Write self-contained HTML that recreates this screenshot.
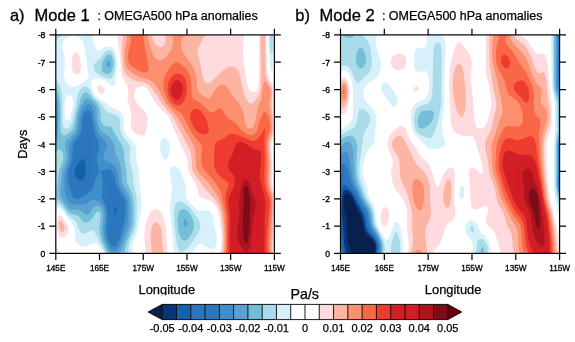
<!DOCTYPE html>
<html><head><meta charset="utf-8"><style>
html,body{margin:0;padding:0;background:#fff;width:575px;height:342px;overflow:hidden}
svg{display:block;font-family:"Liberation Sans", sans-serif;will-change:transform}
.hv{stroke:#000;stroke-width:0.3px}
.md{stroke:#000;stroke-width:0.25px}
.tl{font-size:8.2px;stroke:#000;stroke-width:0.3px}
.yl{font-size:8.6px;stroke:#000;stroke-width:0.35px}
</style></head><body>
<svg width="575" height="342" viewBox="0 0 575 342">
<defs><clipPath id="c0"><rect x="55.8" y="34.9" width="218.6" height="218.5"/></clipPath><clipPath id="c1"><rect x="340.5" y="34.9" width="219.1" height="218.5"/></clipPath></defs>
<text x="9.9" y="20.6" font-size="16.5" class="hv">a)</text>
<text x="34.6" y="20.6" font-size="16.5" class="hv">Mode 1</text>
<text x="97.4" y="20.3" font-size="12" textLength="160.4" lengthAdjust="spacingAndGlyphs" class="md">: OMEGA500 hPa anomalies</text>
<text x="295.3" y="20.6" font-size="16.5" class="hv">b)</text>
<text x="319.6" y="20.6" font-size="16.5" class="hv">Mode 2</text>
<text x="381.9" y="20.3" font-size="12" textLength="160.7" lengthAdjust="spacingAndGlyphs" class="md">: OMEGA500 hPa anomalies</text>
<g clip-path="url(#c0)">
<path fill="#ffdadf" d="M118.8 33.9L243.9 33.9L243.1 48.4L243.2 56.4L243.7 61.9L245.9 74.4L247 83.4L247.8 87.1L249.2 89.9L250.8 91.5L253.3 92.2L255.3 91.7L256.8 90.1L257.8 87.6L258.4 83.9L258.9 68.4L259 33.9L266.5 33.9L266.4 48.9L267.3 72.4L267.9 75.4L268.8 78L273 84.9L273.8 89.9L273.4 105.9L274.2 122.4L274.2 129.4L273.6 134.9L271.4 143.4L271.1 147.4L272.4 162.4L272 182.4L274.3 197.1L274.8 198.7L275.3 198.7L275.3 212.4L274.8 212.4L274.6 216.9L274.8 226L275.3 226L275.3 239.6L274.8 239.6L274.7 243.9L274.8 253.9L219.7 253.9L220.8 249.8L221.4 245.4L221.5 233.9L219.8 218.1L218.7 212.9L217.2 208.9L214.8 204.8L211.8 201.8L208.8 200.1L201.8 197.8L200.3 196.7L199.3 195.5L198.3 193L196.2 184.9L190.4 174.9L188.9 171.4L188 167.4L187.3 159.4L186.4 155.9L181.8 148L178.3 138.4L174 129.4L169.8 119.3L168.3 116.7L166.3 114.1L159 106.9L155.7 102.9L153 98.9L149.3 91.9L147.8 89.7L145.8 87.8L143.3 86.6L141.8 86.5L139.8 86.7L138 87.4L136.6 88.4L135.4 89.9L134.7 91.4L134.3 95.4L135.1 99.4L136.7 102.9L138.8 105.5L144.7 111.4L146.1 113.4L147 115.4L147.6 118.4L147.6 121.9L146.9 126.9L145.9 131.9L145.1 133.9L144.3 135L143.3 135.6L141.8 135.6L138.8 134.8L135.3 133.1L133.1 131.4L131.7 129.4L131 127.4L130.7 124.9L131.3 115.9L131 111.4L130.2 107.9L128 102.4L127.6 100.4L128.4 92.9L128.2 89.4L126.7 84.9L122.3 76.4L121.1 71.4L119.7 51.9L117.6 38.9L117.7 37.4L118.4 34.9L118.4 33.9zM74.8 52.2L75.8 52L76.8 52.3L77.8 53.2L78.8 54.9L80.1 58.9L80.8 63.9L80.9 68.4L80.3 71.4L78.8 73.7L76.8 74.6L75.3 74.3L73.7 72.9L72.5 70.4L72 67.4L71.8 62.4L72.2 57.4L73 54.4L74.4 52.4zM99.3 85.3L100.8 85.3L102 85.9L103.2 86.9L104.1 88.4L104.5 89.9L104.5 91.4L103.8 92.7L102.8 93.4L101.3 93.6L99.8 93.2L98.8 92.4L97.7 90.9L97.2 89.4L97.3 87.4L97.8 86.3L99 85.4zM154.3 209.4L155.8 209.1L157.3 209.3L159.8 210.9L162.3 214.8L164.7 220.9L165.7 224.9L166.2 228.9L166.8 244.9L167.9 253.9L145.8 253.9L144.3 237.9L144.5 231.9L145.3 225.8L147 219.4L149.3 214.1L151.7 210.9L154.2 209.4zM58.8 215.1L59.3 214.9L60.3 215.1L62.3 217.2L66.6 223.9L68.1 227.4L68.2 230.9L67.4 233.9L65.8 236.2L63.3 237.6L61.3 237.6L59.8 236.7L58.5 234.9L57.7 232.4L57.1 227.9L57.1 222.4L57.6 217.9L58.6 215.4zM95.3 253.3L97.3 253L98.4 253.4L98.4 253.9L95 253.9L95 253.4z"/>
<path fill="#fdb5a3" d="M123.8 33.9L151.3 33.9L151.3 34.9L152.8 38.7L155.3 43.4L157.8 46.1L160.3 47L161.8 46.8L163.1 45.9L164.3 44.4L165 42.9L165.6 38.9L165.1 33.9L205 33.9L205 34.9L204 36.9L198.3 47.4L197.6 49.4L197.4 51.4L197.7 54.4L200.5 64.9L202.7 76.9L204.3 81.1L205.3 82.3L206.8 83.2L208.3 83.2L209.8 82.7L213.3 80.1L220.8 72.1L225.3 68.4L227.8 67.1L230.3 66.4L232.3 66.3L234.3 66.8L235.8 67.8L237.3 69.5L239.8 74.4L240.8 78.4L243.1 90.9L245.1 96.9L246.8 99.8L248.3 101.8L249.8 103.2L251.3 103.7L252.3 103.3L253.3 102.5L257.3 97.8L258.8 95L259.9 91.4L260.6 84.9L261 73.4L260.7 33.9L265.4 33.9L265.1 49.9L265.7 72.9L266.2 75.9L267.1 78.9L271.7 87.4L272.4 91.9L271.8 105.9L273.1 121.9L273.2 128.4L272.6 133.4L270 142.4L269.6 146.9L270.9 162.9L270.3 182.4L270.9 186.4L273 194.9L273.6 201.4L273.2 225.4L272.4 244.4L272.6 253.9L222 253.9L222.8 248.4L223.2 242.4L223.2 234.9L222.8 226.9L221.2 213.9L219.9 208.9L218.4 204.9L215.3 199.8L206.5 190.4L196.2 176.9L193.7 172.9L192.6 170.4L192 167.9L191.4 155.9L189.9 149.9L174.1 119.4L171.6 115.4L162.7 104.4L151.8 88.2L149.4 85.4L147.3 83.9L144.8 82.8L136.3 81.2L133.3 80.1L127.8 76L126.2 74.4L124.8 72.3L123.6 69.4L122.9 65.9L122 55.9L122.1 44.9L123.4 33.9zM59.8 220.8L60.8 220.6L61.8 221.4L63.3 223.6L64.3 225.9L64.7 227.9L64.5 229.4L63.8 231L62.8 231.8L61.8 231.9L60.8 231.3L59.9 229.9L59.3 228.4L59 223.9L59.3 221.9L59.7 220.9zM155.3 222.3L156.8 222.3L158.3 223.2L159.8 225.1L160.9 227.9L161.8 232.9L162.5 246.4L164.2 253.9L151.7 253.9L150.8 237.9L151 231.9L151.5 228.9L152.4 225.9L153.8 223.6L155.2 222.4z"/>
<path fill="#fc8f6e" d="M127.3 33.9L147.3 33.9L147.8 37.1L149.8 45L151.7 50.9L153.3 54.9L154.8 57.4L156.3 59.1L157.8 60.1L159.8 60.5L162.8 59.6L165.8 57.4L168.6 53.9L170.9 49.9L172.4 45.9L173.2 41.9L173.1 38.9L172.2 33.9L187 33.9L187 34.9L184.3 35.9L182.8 37.3L181.9 38.9L181 42.4L181.3 46.9L182.6 50.9L184.2 54.4L186.3 57.6L191.8 64.7L194.5 69.9L196.1 75.9L197.3 87.4L198 89.9L199.1 91.9L201.3 94.4L204.3 96.7L206.8 98.1L208.8 98.4L209.8 97.9L210.8 96.8L214.9 89.9L218.3 86.2L220.3 85L222.3 84.6L224.3 84.9L225.8 85.7L227.7 87.9L231.8 94.8L238.3 102.6L241.3 107.1L242.6 109.9L243.6 112.9L244.9 121.9L245.5 124.4L246.9 126.9L248.9 128.4L250.8 128.6L252.3 127.8L253.7 125.9L254.7 123.4L255.7 118.9L257.6 108.4L261.6 97.9L263.1 84.9L263.8 81.6L264.3 81.3L265.3 82L268.8 86.6L270.1 89.4L270.6 91.9L270.5 95.4L269.4 102.4L269.2 105.4L271.5 119.9L272 125.9L271.6 130.9L268.6 140.9L268 146.4L269.2 162.9L268.5 177.9L268.7 182.9L269.4 187.4L272 196.4L272.7 202.4L271.9 222.4L270.6 242.9L270.8 253.9L223.9 253.9L224.5 246.9L224.8 238.4L224.6 228.9L224 219.9L223.3 213.9L222.3 209L220.8 203.8L218.9 198.9L216.3 194L209.8 184.5L207.1 181.4L200.3 174.6L197.8 171.2L196.7 168.9L196 165.9L195.3 151.4L194.6 147.9L193.5 144.9L179.5 120.4L176 115.4L168.8 107.1L166 103.4L158.8 90.2L155.6 84.9L153.3 82.2L150.7 80.4L147.8 79.3L140.8 77.6L136.8 75.7L129.3 70.6L127.8 69.1L126.6 67.4L125.7 65.4L125 62.4L124.5 55.4L125 48.9L126.8 38.9L127 33.9zM188.3 33.9L197.9 33.9L197.9 34.9L195.8 35.6L193.3 35.7L188.1 34.9L188.1 33.9z"/>
<path fill="#f96747" d="M130.8 33.9L143.2 33.9L144 41.9L148.5 66.9L148.5 68.9L148 70.4L147.3 71.4L145.8 72.3L144.3 72.6L142.7 72.4L138.3 70.4L131.5 65.9L129.8 64.1L128.8 62.3L128.1 59.4L127.9 55.4L128.6 50.9L131 40.9L131.2 37.9L130.8 33.9zM175.3 62.4L176.8 62.2L178.3 62.6L181.8 64.9L186.3 69.2L189.2 73.4L190.3 76.4L191.1 80.4L191.7 95.4L192.3 97.6L193.3 99L200.8 103.5L207.8 110.2L210.3 111.9L211.8 112.2L213.3 112L214.8 111.3L218.8 108.5L220.3 108.2L221.3 108.6L222.8 110.2L225.8 115.4L227.3 117.4L229.3 119.1L234.8 122.3L236.3 123.8L241 129.9L243.3 131.9L245.8 133.5L248.3 134.7L250.8 135.3L252.8 135L254.3 134.2L256.3 131.9L257.7 128.9L261.3 116.4L262.8 113.1L263.8 112.2L265.3 112.1L266.8 113.7L267.8 115.5L269.7 121.4L270.2 126.9L269.7 130.9L267.1 139.4L266.5 143.9L266.5 148.9L267.3 162.4L266.7 180.9L267.5 187.4L270.9 197.9L271.4 203.9L268.9 239.9L268.9 253.9L225.7 253.9L226.3 235.9L225.8 217.9L224.5 208.9L220.3 190.7L219 187.9L216.7 184.4L211.3 177.5L204.9 170.4L202.4 166.4L201.5 163.4L201.2 159.9L202 148.4L201.7 146.4L200.8 144.4L199.5 142.4L194.3 136.5L191.8 132.9L182.3 114.8L180.5 112.9L173.8 108L169.2 102.9L166.7 98.4L164.6 92.4L163.7 88.4L163.4 84.4L163.6 80.9L164.5 77.4L166.7 72.4L169.5 67.9L172.8 64L175.2 62.4z"/>
<path fill="#ee3b2e" d="M177.3 73.4L178.8 73.5L180.8 74.1L182.8 75.5L184.3 77.2L185.3 78.9L186.2 81.4L187 86.9L186.5 93.4L185.6 96.9L184.5 99.9L183.3 102L181.8 103.8L180.3 104.7L178.3 105.1L176.3 104.8L174.3 103.7L172.3 101.9L170.8 99.9L168.5 94.9L167.5 89.4L168 83.9L168.8 81.3L170 78.9L171.5 76.9L173.3 75.1L175.3 73.9L177.1 73.4zM195.3 108.8L197.8 108.9L200.8 110.8L203.7 114.4L206.3 119.4L208.2 124.9L208.9 129.4L208.3 132.4L207.5 133.4L206.3 134.1L204.3 134.5L202.3 134.3L200.3 133.6L198.3 132.5L194.8 128.9L191.9 123.9L190.1 118.4L190.2 114.4L190.8 112.4L191.8 110.9L193.3 109.6L195 108.9zM264.8 128.6L265.3 128.6L265.5 129.9L264.7 135.9L264.4 140.9L264.9 159.4L264.3 173.9L264.5 180.9L265.4 187.9L268.9 198.4L269.6 203.9L267.1 235.4L266.8 244.9L266.9 253.9L227.6 253.9L227.8 219.4L227.4 213.4L225.7 202.4L225.4 197.9L225.8 193.4L228.1 186.4L228.3 184.2L227.8 182.5L226.8 181.2L221.3 177.7L218.9 175.4L216.8 172.4L215.2 168.9L214.4 165.9L214.1 162.4L214.4 148.9L215 144.4L216 142.4L217.3 141.2L223.8 138.4L229 134.4L231.3 133.5L234.3 133.9L239.3 135.4L250.8 140.5L252.8 140.9L254.8 140.7L256.8 139.7L258.3 138.2L264.5 128.9z"/>
<path fill="#d21f26" d="M175.8 80.3L178.3 80.2L179.8 80.9L180.8 81.8L182.4 84.4L183.2 87.9L182.9 91.9L181.5 95.9L179.7 98.4L178.3 99.3L177.3 99.6L175.3 99.2L173.3 97.4L171.6 94.4L170.8 90.9L170.9 87.4L171.9 84.4L173.5 81.9L175.7 80.4zM239.3 141.9L241.3 141.8L243.3 142.4L246 143.9L253.3 148.8L255.8 149.6L259.3 150.3L260.3 151.4L260.8 152.9L261.2 159.4L259.9 172.9L259.9 177.9L260.6 181.9L265 198.9L265.6 203.4L264.7 217.9L264.5 253.9L229.8 253.9L229.6 242.9L230.1 217.4L229.8 212.4L228.7 203.4L228.6 199.9L229.6 195.4L233.8 186.9L234.5 183.9L234.7 180.9L234.4 177.9L233.8 175.7L232.5 173.4L228.7 168.9L228 166.9L227.9 164.4L228.7 161.4L232.3 154.4L235.3 145.4L236.8 143.2L239.2 141.9z"/>
<path fill="#d21d25" d="M176.8 88.8L177.3 89.3L177.4 89.9L176.8 91L176.3 90.9L176 89.9L176.6 88.9zM244.3 174.7L245.8 174.5L247.3 174.6L248.8 175.4L249.7 176.4L250.9 178.9L252.8 185.9L253.6 187.9L254.8 189.5L258.3 192.2L259.3 193.9L260.3 196.8L260.8 200.4L261 204.9L260.3 228.9L259.8 236.4L259.3 239.9L258.3 242.8L257.8 243.3L255.8 243.7L254.8 244.9L254.3 246.1L252.6 253.9L234.5 253.9L232.8 249.8L232.1 243.4L232.3 233.4L233.6 215.4L233.5 211.9L232.6 204.4L232.7 200.9L233.5 197.9L236.8 190.4L239.9 179.4L241.7 176.4L243.9 174.9z"/>
<path fill="#b0131f" d="M245.3 179.7L246.3 179.6L247.3 180L248.3 181L249 182.4L252.2 193.9L255.3 200.4L255.9 203.9L255.7 206.9L253.7 215.9L250.1 245.4L248.8 250L247.8 251.5L246.8 252L245.3 251.7L243.9 250.4L239.6 243.9L237.9 239.9L237.3 235.4L237.5 229.4L239.3 214.4L239.1 201.9L239.6 195.9L240.8 188.4L241.8 184.4L243.3 181.4L244.9 179.9z"/>
<path fill="#7a0d18" d="M246.3 185.4L247.3 186.2L247.8 187.2L248.7 190.9L250 199.4L250.3 205.4L249.7 222.9L248.9 233.9L247.8 240.9L247.3 242.3L246.3 243.3L245.8 243.1L244.8 241.9L243.8 238.9L243 233.9L242.8 228.4L243.5 208.4L243.6 191.9L244.4 187.4L245.2 185.9L246 185.4z"/>
<path fill="#d6f1fc" d="M55.3 33.9L92.9 33.9L92.8 38.9L93.6 42.9L95.3 47.3L97.3 49.9L98.3 50.4L99.3 50.4L105.3 47L107.3 46.4L109.3 46.2L111.3 46.9L112.8 48L114.3 50L115.4 52.4L116.8 58.4L117.1 65.4L115.4 82.4L115 84.4L114.3 85.9L113.3 86.5L112.3 86.3L107.3 82.4L104.3 80.5L100.8 79L97.8 78.5L94.3 78.8L92.2 79.9L91.3 81.9L91.3 84.9L92 88.9L93.1 91.9L94.8 94.7L96.8 96.9L99.3 98.9L105.1 102.4L110.3 106.8L118.8 110.7L120.5 111.9L121.9 113.4L123 115.4L123.7 117.9L124.1 128.4L125.1 132.4L127.6 136.4L133.8 142.4L135.1 144.4L135.8 146.4L136.4 150.4L136 158.9L138.9 170.9L139.5 184.4L141.2 195.4L141.6 200.4L141.1 207.4L138.3 227.4L136.9 232.9L133.3 241.9L132.3 245.9L132.2 247.9L132.7 249.9L133.5 251.4L135.1 253.4L135.1 253.9L104 253.9L103.7 252.9L99.3 246.6L97.3 244.6L95.3 243.6L93.8 243.3L92.3 243.7L87.8 246.4L85.8 246.9L82.8 246.6L79.3 245.3L76.8 243.5L75.6 241.4L74.2 227.9L73.3 224.9L71.8 222.4L66.8 217.1L62.3 210.5L59.8 208L58.3 207.6L57.3 208L56.3 209.8L55.8 212.4L54.8 212.4L54.8 33.9zM71.9 35.9L67.8 37.2L64.7 39.4L62.8 42.4L62.3 45.9L62.6 48.4L64.3 55.9L64.9 60.4L64.9 64.9L64 74.4L64.5 78.4L66 81.9L68.3 85L70.3 86.5L72.8 87.1L75.3 86.6L77.8 85.5L85.8 80.4L87.9 78.4L88.5 76.9L88.6 75.4L88.2 71.4L86.5 61.4L85.1 48.9L83.7 43.4L81.7 39.9L78.8 37.3L75.8 36L72.3 35.9zM68 94.9L66.3 96.9L65.4 99.4L64.8 103L64.5 107.4L64.6 112.9L65.2 117.4L66.1 119.9L67.3 120.6L68.8 119.6L70.5 115.9L72.3 109L73 103.4L72.8 99.9L71.6 96.4L70.3 94.8L69.3 94.5L68.3 94.7zM268.8 33.9L274.1 33.9L273.9 50.4L273.3 63.4L272.8 69.7L272.3 71.6L271.8 72L271.3 71.6L270.8 70.4L270.3 67.9L269.2 55.9L268.5 44.4L268.6 33.9zM163.3 137.2L164.3 137.1L165.3 137.4L167.3 139.2L168.9 141.9L169.7 145.4L169.5 150.4L168.3 156.2L167.3 158.6L166.8 159.2L165.8 159.5L164.8 159.3L163.8 158.7L162.3 156.8L161.1 153.9L160.4 150.4L160.1 145.9L160.5 141.9L161.6 138.9L162.9 137.4zM171.8 166.3L174.3 166L176.8 166.9L178.8 168.5L180.4 170.9L185.7 184.9L186 187.9L185.7 193.9L186 196.4L187.1 198.9L188.9 201.4L195.3 208.2L198.3 210.6L200.8 211.2L205.8 210.4L207.8 210.5L210.3 211.8L211.9 213.9L213.3 218.4L214.3 225.9L216.3 234.4L216.8 238.9L216.6 242.4L216 245.4L214.8 247.5L213.3 248.7L211.3 249L209.3 248.6L206.9 247.4L202.8 244.6L200.3 244.2L198.3 244.9L196.3 246.8L192.1 252.9L191.8 253.9L174 253.9L170 208.9L170.3 201.9L171.8 191.4L172.1 187.4L171.8 183.9L170.3 174.9L170 170.9L170.5 167.9L171.6 166.4zM55.3 244.9L55.8 244.9L59 249.9L59.5 251.4L59.6 253.9L54.8 253.9L54.8 244.9z"/>
<path fill="#a9dce8" d="M55.3 33.9L62.7 33.9L62.7 34.9L59.2 37.4L55.8 40.8L54.8 40.8L54.8 33.9zM270.3 33.9L273.2 33.9L272.8 48.9L272.3 53.2L271.8 54.6L271.3 54.3L270.8 52.8L270 47.4L269.7 40.9L269.9 33.9zM108.3 50.3L109.8 50.4L110.8 50.7L113 52.9L114.6 56.9L115.4 61.9L115.1 67.9L113.8 73.6L111.8 77.7L110.8 78.5L109.8 78.8L107.8 78.6L104.8 77.5L100.4 75.4L97.1 73.4L95.6 71.9L94.8 70.4L93.8 66.4L93.9 64.4L94.5 63.4L98.8 60L104.3 52.6L106.3 51.1L108 50.4zM55.3 80.2L56.8 80.8L58.4 82.9L60.5 87.4L61.7 91.4L62.3 97.4L62.5 121.4L63.3 126L63.9 127.4L64.8 128.3L66.3 128.7L68.3 127.9L69.8 126.5L71.1 124.4L72.5 120.4L75.6 106.4L77.2 95.9L77.9 93.4L79.2 90.9L80.8 89L83.3 87.2L85.3 86.6L86.8 86.7L88.3 87.8L93.2 95.9L95.8 98.8L101.4 103.9L106.3 111.1L108.3 112.4L113.8 113.9L116.3 114.9L118.2 116.4L119.3 118.1L120.1 121.4L120.4 129.9L121.5 133.9L124.1 138.4L129.4 144.4L130.5 146.9L130.7 149.4L129.6 156.4L129.6 160.4L132.5 172.4L133.7 183.4L136.1 194.4L136.8 200.4L136.8 214.9L136.2 223.9L134.7 230.4L130.4 240.4L129 244.9L128.5 249.9L129.5 253.9L105.9 253.9L105.6 252.9L101.7 245.9L95.3 233.3L93.8 231.1L92.8 230.6L91.3 230.6L84.3 233.7L82.8 233.7L81.3 233.1L80.3 232.1L79.3 230.4L76.7 223.4L74.8 220.4L67.3 214.6L62.7 207.9L60.3 205.3L58.8 204.3L57.3 203.7L56.3 203.8L55.8 204.3L54.8 204.3L54.8 80.2zM177.8 201.3L179.8 201.1L182.3 202.2L186.8 205.1L190.5 208.4L194.1 212.9L198.7 219.9L199.9 222.4L200.4 224.9L200.2 227.9L199 231.4L196.5 235.9L192.3 242.3L189.3 246.2L186.8 248.8L183.8 251L181.3 251.9L179.8 251.4L179 250.4L177.2 245.4L175.6 236.4L174.3 223.4L173.9 214.9L174.3 208.9L175.6 203.9L176.5 202.4L177.6 201.4zM55.3 253.4L55.8 253.4L55.8 253.9L54.8 253.9L54.8 253.4z"/>
<path fill="#73bfd9" d="M107.8 54.8L109.8 54.6L110.8 55.1L111.8 56.3L113.1 59.4L113.5 62.9L113 67.4L111.8 71L110 73.4L107.8 74.2L105.3 73.6L103.3 72.2L102.1 70.4L101.6 67.9L102 64.4L103.5 59.9L105.3 56.9L107.5 54.9zM55.3 86.4L55.8 86.4L56.1 86.9L58 91.4L59.1 94.9L59.8 98.9L60.4 106.9L60.4 128.4L61 132.4L62.3 134.9L63.3 135.3L64.3 135.3L66.8 134.3L70.3 131.8L72.6 128.9L74.3 124.4L76.8 110.9L80.8 97.9L81.9 95.4L83.3 93.6L84.8 92.6L86.3 92.5L87.3 93L88.8 94.3L96.8 102.9L98.9 105.9L100.1 109.9L100.7 119.4L101.3 121.6L102.3 123.6L103.3 124.8L104.8 125.8L106.8 126.4L110.3 126.6L111.8 127.8L122.8 146.9L123.8 150.4L124.5 159.4L126.2 169.9L126.8 180.9L127.9 184.4L131.4 191.9L133.1 198.4L133.6 203.9L133.9 216.9L133.7 222.4L132.9 226.9L131.8 230.4L127.3 240.9L124 253.9L107.9 253.9L107.9 253.4L105 248.4L102.7 243.4L101.1 238.9L100.1 234.9L99.5 230.9L99.4 227.4L100.5 215.9L100.1 213.4L99.1 211.9L98.3 211.5L97.3 211.4L95.8 212.4L91.8 218.9L89.3 221.4L86.8 222.5L84.3 222.2L82.3 220.9L79.3 217.1L77.8 215.7L76.3 215.1L71.3 214L68.3 212.3L66.8 210.7L62.8 204.5L58.5 199.9L57.6 198.4L56.9 195.9L56.8 191.9L58.4 173.9L59.5 169.4L62.8 161L63.4 156.9L63.1 154.9L62.3 152.5L61.3 150.8L60.3 149.9L59.3 149.5L58.3 149.5L56.8 150.5L55.8 151.8L54.8 151.8L54.8 86.4zM181.3 209.4L183.3 209.1L185.3 209.6L187.3 210.8L188.8 212.2L190.5 214.4L192.1 217.4L193.1 220.4L193.8 223.4L193.9 225.9L193.6 228.4L191.8 233.4L190.3 235.9L188.3 238.5L186.3 240.1L184.8 240.6L183.3 240.5L182.3 239.9L180.4 237.4L178.9 232.9L177.9 226.9L177.5 220.4L177.9 214.9L179.1 211.4L179.8 210.4L181.2 209.4z"/>
<path fill="#5ea0d2" d="M108.3 60.6L109.3 60.5L109.8 60.8L110.4 61.9L110.6 63.4L110.3 65.2L109.8 66.4L109.3 67.1L108.3 67.6L107 66.9L106.5 64.9L106.8 62.7L107.9 60.9zM55.3 93L55.8 93L57.8 100.4L58.4 104.9L58.6 110.4L57.9 136.9L57.2 140.9L55.8 144.1L54.8 144.1L54.8 93zM86.3 98.8L88.3 99L90.8 100.6L93.8 103.4L95.8 106.4L96.8 110.4L97.2 117.9L97.8 122.6L98.8 126.4L100.3 129.6L102.8 132.5L108.3 136.2L110.3 137.9L112.3 140.4L113.6 142.9L114.6 146.4L115.9 154.4L119.3 162.1L120.7 166.9L121.4 171.4L121.8 179.4L122.5 182.9L123.7 185.9L128.3 193.4L130 198.4L130.7 204.4L131 216.9L130.9 221.4L130.5 224.9L129.4 228.4L125.6 237.9L122.1 248.4L120.8 251L118.8 253.4L118.8 253.9L110.5 253.9L110.5 253.4L107.3 248.9L105.2 244.4L103.1 237.9L102.1 231.4L102.1 226.4L103.1 216.9L103.1 213.4L102.1 209.9L100.3 207.4L99.3 206.6L97.8 206L96.3 206L94.8 206.5L92.8 208.2L88.9 213.9L87.8 214.6L86.3 214.6L84.8 213.9L81.3 211L79.3 209.9L77.3 209.6L71.8 209.9L69.3 209L67.3 206.9L61.6 198.4L60.2 194.9L60.1 190.9L62 173.4L63.1 169.4L65.9 161.4L66.7 157.9L66.7 153.9L65.2 145.9L65.4 143.4L66 141.9L67.2 139.9L73.3 133.4L75.3 130.3L76.4 126.9L77.7 116.4L79.3 110.3L81.3 105.4L83.3 101.6L84.8 99.7L86.1 98.9zM184.8 218.7L185.8 218.9L186.3 219.4L187.1 220.9L187.5 222.4L187.2 225.4L186.7 226.4L185.8 227.1L184.8 226.9L184.3 226.3L183.4 223.9L183.4 220.9L183.8 219.7L184.5 218.9z"/>
<path fill="#3f8fcb" d="M55.3 103.2L55.8 103.2L56.3 106.4L56.7 114.9L56.6 128.4L55.8 136.4L54.8 136.4L54.8 103.2zM87.3 104.3L88.8 104.2L90.3 104.9L91.8 106.3L92.9 107.9L94 111.4L95.4 123.4L97.3 130.8L99.4 134.9L104.9 140.9L106.6 143.9L106.9 145.4L106.8 147.4L103.8 155.4L103.5 157.4L103.9 158.9L105.8 160.9L110.8 163.1L112.8 164.3L114.3 165.6L115.8 167.7L117.4 171.9L118.8 181.4L119.8 185.2L121.3 188.3L125.9 195.4L127.6 200.4L128.2 205.9L128.2 215.9L127.9 220.9L127.2 224.9L119.8 246.3L117.3 249.9L114.8 251.3L112.3 251.1L110.8 250L109.8 248.9L107.3 244.4L105.5 239.4L104.6 234.9L104.2 229.9L105.2 216.9L105.1 212.4L104 207.9L101.8 204.2L99.8 202.2L97.8 200.9L95.8 200L93.8 199.7L90.8 200.5L86.8 203.3L84.8 204.1L74.3 204.7L71.8 204.5L69.8 203.3L68.2 201.4L65.9 196.9L64.9 193.4L64.6 189.9L64.7 175.4L65.6 170.4L68.7 161.4L69.5 157.9L69.7 154.4L69.2 147.4L69.5 144.4L71.1 140.9L75.9 134.9L77.7 131.9L78.8 127.9L79.7 117.9L80.8 113.3L82.2 109.9L83.8 107.3L85.3 105.5L87 104.4z"/>
<path fill="#2d78bd" d="M86.8 110.3L88.3 110L89.3 110.5L91 112.9L91.8 115.9L93.5 126.9L94.6 131.9L96 135.9L99.5 143.9L99.5 147.4L97.1 154.9L96.6 159.4L97.3 164.7L99.4 170.9L99.5 171.9L96.3 177.2L93.1 187.4L91.1 190.9L88.8 193L82.3 197.2L79.3 198.4L76.8 198.7L75.3 198.4L73.7 197.4L72.3 195.7L71.3 193.4L68.1 180.9L67.7 176.9L67.8 173.4L68.6 169.4L72.3 157.9L72.6 154.9L72.6 147.9L73 144.9L74.3 142.1L78.6 136.4L80.4 132.9L81.4 128.9L81.9 120.4L82.7 116.4L84.3 112.7L86.6 110.4zM105.8 169.3L108.3 169.2L110.3 169.8L111.8 170.9L113.3 172.9L114.6 176.4L117.3 186.9L119 190.4L123.8 197.7L124.8 200.4L125.4 203.9L125.5 208.9L125.1 215.9L124.6 220.4L123.6 224.9L119.8 237.9L118.3 242.1L116.3 245.4L115.1 246.4L113.8 246.9L111.8 246.3L110.3 244.8L108.7 241.9L107.3 237.4L106.6 233.4L106.3 228.9L107.2 215.9L107 210.4L105.8 205.4L102.3 198.4L101.5 195.4L101.6 192.9L102.9 185.9L103 182.9L102.3 177.9L100.7 172.4L101.1 171.4L101.8 170.9L105.4 169.4z"/>
<path fill="#2b76be" d="M86.8 118.8L87.8 118.7L88.3 119.2L89.3 121.6L93 143.4L92.9 146.9L91.5 157.9L91 174.9L90 181.4L88.3 185.5L86.8 187.2L84.8 188.5L82.3 189.3L80.3 189.5L78.8 189.1L77.3 188L75.3 185.7L73.2 182.4L72 179.9L71.2 177.4L70.9 172.4L71.7 168.4L75.5 157.9L76.7 146.4L77.8 143.9L82 138.4L83.8 134.9L84.8 130.4L85.5 121.9L86.1 119.9L86.8 118.9zM109.8 180.6L110.3 180.7L111.3 181.8L115.7 191.9L120.9 199.4L122 202.4L122.4 205.9L122.3 210.8L121.5 216.9L117.8 232.3L115.8 237.9L114.8 239.4L113.3 240.2L111.8 239.7L110.3 237.4L109.3 234L108.8 230L109.5 210.4L108.9 204.9L106.9 196.9L106.7 193.9L107.8 185.4L108.5 182.4L109.3 180.9z"/>
<path fill="#1460aa" d="M82.3 158.7L83.3 159L83.8 159.5L85 162.4L85.7 167.4L85.8 172.9L85.3 176L84.3 178.5L82.8 179.9L80.8 180.3L78.3 179.4L76.3 177.5L75 174.9L74.6 171.9L75.3 168.4L76.8 165L79.3 161.3L81.9 158.9zM115.3 206.9L115.8 206.8L116.3 207.4L116.6 210.4L115.8 214.4L115.3 215.3L114.8 215.4L114.4 210.9L114.8 207.9L115.3 206.9z"/>
</g>
<rect x="55.8" y="34.9" width="218.6" height="218.5" fill="none" stroke="#000" stroke-width="1.2"/>
<text class="tl" x="55.8" y="271" text-anchor="middle">145E</text>
<text class="tl" x="99.52" y="271" text-anchor="middle">165E</text>
<text class="tl" x="143.24" y="271" text-anchor="middle">175W</text>
<text class="tl" x="186.96" y="271" text-anchor="middle">155W</text>
<text class="tl" x="230.68" y="271" text-anchor="middle">135W</text>
<text class="tl" x="274.4" y="271" text-anchor="middle">115W</text>
<text class="yl" x="45.3" y="38.3" text-anchor="end">-8</text>
<text class="yl" x="45.3" y="65.61" text-anchor="end">-7</text>
<text class="yl" x="45.3" y="92.93" text-anchor="end">-6</text>
<text class="yl" x="45.3" y="120.24" text-anchor="end">-5</text>
<text class="yl" x="45.3" y="147.55" text-anchor="end">-4</text>
<text class="yl" x="45.3" y="174.86" text-anchor="end">-3</text>
<text class="yl" x="45.3" y="202.18" text-anchor="end">-2</text>
<text class="yl" x="45.3" y="229.49" text-anchor="end">-1</text>
<text class="yl" x="45.3" y="256.8" text-anchor="end">0</text>
<path d="M55.8 34.9v-6.2M55.8 253.4v6.5M99.52 34.9v-6.2M99.52 253.4v6.5M143.24 34.9v-6.2M143.24 253.4v6.5M186.96 34.9v-6.2M186.96 253.4v6.5M230.68 34.9v-6.2M230.68 253.4v6.5M274.4 34.9v-6.2M274.4 253.4v6.5M55.8 34.9h-6.4M274.4 34.9h6.4M55.8 62.21h-6.4M274.4 62.21h6.4M55.8 89.53h-6.4M274.4 89.53h6.4M55.8 116.84h-6.4M274.4 116.84h6.4M55.8 144.15h-6.4M274.4 144.15h6.4M55.8 171.46h-6.4M274.4 171.46h6.4M55.8 198.78h-6.4M274.4 198.78h6.4M55.8 226.09h-6.4M274.4 226.09h6.4M55.8 253.4h-6.4M274.4 253.4h6.4" stroke="#000" stroke-width="1.2" fill="none"/>
<g clip-path="url(#c1)">
<path fill="#ffdadf" d="M486 33.9L519 33.9L519 34.9L524 37.6L526.5 39.7L534 50.7L536.5 53.6L538.5 54.6L542.5 53.5L543.5 53.5L545 54.9L546 57.2L547 61.2L548 67.9L549.3 90.9L551.5 104.9L551.8 110.4L551.5 120.9L550.8 127.4L549.9 131.4L547.1 139.9L546.3 144.9L546.7 171.4L548.1 183.9L548.8 193.4L549.4 197.4L552.3 207.9L554.5 219L557.7 231.9L559 238.6L559.5 239.8L560.5 239.7L560.5 254.4L500.8 254.4L500.8 253.4L496.7 238.4L494.8 232.9L492.6 229.4L487.5 225L486.2 222.4L485.9 220.4L486 218.4L488 210.9L487.9 208.4L487.2 206.4L486 205.6L485 205.6L479.5 208.5L476 209.3L473 208.6L472 207.8L471.3 206.4L470.9 203.9L470.2 187.9L468.6 173.4L468.8 170.4L469.5 169.2L470.5 168.3L472 167.8L473.5 168L476 169.3L480.5 173.3L482 173.7L482.5 173.2L482.9 171.4L482.6 166.9L481.5 162L478.2 151.4L475.5 141.2L473.9 137.4L473 136.5L471.5 135.9L463.5 135.9L459 134.6L456.5 133.2L454.4 131.4L452.8 129.4L451.7 126.9L450.7 121.4L450.2 105.9L449.2 89.4L449.2 80.9L449.9 69.9L451.3 59.4L454 49.9L455.5 46.2L457 43.6L458.5 42.3L460 42.4L462.5 44.5L467.7 51.4L470.1 55.4L471.4 58.9L472 63.9L470.7 73.4L470.6 77.9L472.2 91.9L474.7 120.9L475.7 125.4L477.1 127.9L478 128.6L479.5 128.8L482.5 128L484 126.9L485.4 125.4L487.4 121.4L490.6 108.9L491.4 103.4L491.1 98.9L489.3 86.9L486.4 74.9L485.8 71.4L485.8 33.9zM398.5 53.4L401.5 53.7L404 55.1L405.6 57.9L406.2 61.4L405.8 64.9L404.2 67.9L402 69.6L399 70.4L396 70L393.4 68.4L391.7 65.9L390.9 62.4L391.3 58.9L392.8 55.9L395 54.3L398.4 53.4zM343 77.4L344 77.2L345.5 77.9L347.5 80.6L349 85.4L349.6 91.4L349 99.4L347.3 109.4L346.5 111.8L345.6 113.4L344.5 114.3L343.5 114.6L342 113.7L340.5 110.3L339.5 110.3L339.5 81.9L340.5 81.9L341.5 78.9L343 77.4zM416 86.2L417 86.2L418 86.5L418.8 87.4L419.1 88.4L419 89.4L418.4 90.4L416.5 91.5L415.5 91.4L414.5 91L413.7 89.9L414 87.9L415.6 86.4zM400.5 125.9L402.5 125.8L404.5 127.4L406 130L409.9 139.4L415.6 147.4L420 155.4L422.1 157.9L427.5 162.4L429.4 164.9L431.1 168.9L435.5 183.6L437 186.3L438 186.4L439 185.3L443.5 174.4L445.5 171.1L447.5 168.9L449.5 167.6L451.5 167.5L453.5 168.7L454.6 170.9L454.9 174.9L454.1 197.4L454.3 202.9L455.5 212.4L455.2 215.9L454.5 217.8L453.4 219.4L448.5 223L446.4 225.4L445 228.6L442.8 236.9L441.5 240.6L439.9 243.4L435 249.8L433.1 253.4L433.1 254.4L407.7 254.4L408.5 247.9L408.7 243.4L407 226.9L407.3 214.4L406.8 209.4L405.7 204.9L404 200.8L402 197.6L395.8 189.9L394.1 186.4L392.5 181.9L391.4 177.4L391.1 173.4L391.3 170.9L392.8 163.9L392.7 159.9L391.9 156.9L388.5 149.4L387.5 144.4L387.6 141.9L388.2 138.9L389.3 136.4L390.5 134.4L392.5 132.1L396.5 128.5L398.5 126.9L400.4 125.9zM384 207.3L386 207.2L387.5 208.1L388.6 209.9L389.1 212.9L388.7 217.4L387.4 222.9L386 225.9L385.5 226.5L384.5 226.9L383 225.9L382 224.4L381 221.5L380.7 218.4L380.8 214.9L381.5 211.2L382.5 208.7L383.8 207.4z"/>
<path fill="#fdb5a3" d="M490 33.9L513.8 33.9L514.2 35.9L516 38.7L523.5 44.6L525.5 46.8L527.5 49.8L531.6 57.9L536 70.1L537.3 72.4L538 73.1L539 73.4L543 72.1L544.1 72.9L545.3 75.4L546.5 82.4L547.6 97.4L549.5 108.2L549.8 114.9L549.6 119.9L548.9 124.4L545.1 136.4L544 142.9L543.8 148.9L544.7 170.9L547.5 197.2L551.8 213.4L555.1 231.9L556.8 248.9L557.5 251.8L558.6 253.4L558.6 254.4L514.4 254.4L514.4 253.4L513.5 250.9L512.9 247.9L512.2 237.9L511.4 233.9L510.4 231.4L507 224.9L503.5 213.5L499.3 205.9L497.6 201.9L494.5 187.2L490.7 177.4L489.4 172.9L487.6 158.9L485.4 149.4L484.9 145.4L485.1 142.4L485.7 139.9L490.1 131.9L491.7 127.9L493.7 117.4L495.7 109.4L496.3 105.4L495.9 100.4L493.4 89.4L489.7 63.4L489 46.4L489.2 40.4L489.8 33.9zM458 64.2L459.5 64L460.5 64.5L461.7 65.9L462.7 68.4L463.5 72.7L465.9 92.4L465.9 101.4L465 110.4L463.5 115.1L462.5 116.4L461.5 116.9L460.5 116.6L459 115L456.5 109.5L454.5 101.5L452.9 90.4L452.8 81.9L453.7 73.4L455.4 67.4L456.5 65.5L457.6 64.4zM344 80.4L345.5 81.3L347 83.9L348 87.9L348.2 92.4L347.7 97.9L346.5 103.1L345 106.6L343.5 107.8L342.5 107.4L341.5 105.8L340.5 101.1L339.5 101.1L339.5 87.7L340.5 87.7L341 84.4L342 81.7L343 80.6L343.9 80.4zM398.5 135.9L400 135.7L401.5 136.1L403.5 138.2L407 145.8L411 152.9L414.7 161.4L416.8 164.4L422 169.4L425 173.1L427.5 177.5L429.2 182.4L430 188.4L430 199.4L430.9 209.9L430.9 213.9L429.9 218.9L425.8 227.9L425 232.9L425.3 236.9L426.8 246.9L427.2 254.4L410.4 254.4L410.4 253.4L412.3 245.9L413 239.9L412.9 235.4L412 226.9L412.2 216.9L411.8 211.4L410.2 204.4L407.2 193.9L405.5 189.5L402.1 182.4L400.6 177.9L399.8 172.9L399.6 162.4L398.9 158.4L397.6 155.4L393.2 148.9L392 144.9L392.3 141.9L393.5 139.4L395.5 137.3L398.4 135.9zM449 179.4L450 179.9L450.4 180.4L451.2 182.9L451.6 186.9L451.5 192.3L450.8 200.4L450.1 204.9L449 207.1L447.5 207.8L446.5 207.4L445.5 206.5L444.1 203.9L443.3 200.4L443.1 195.9L443.7 189.9L445.1 184.4L447 180.6L448 179.7L448.8 179.4z"/>
<path fill="#fc8f6e" d="M494 33.9L510.4 33.9L510.8 37.9L512.1 41.4L514.5 44.7L521.7 51.9L525 56.5L528.2 62.9L532 74.4L534 79L536.5 83.2L540.4 87.4L541.4 89.4L541.7 92.4L540.7 98.9L540.8 101.9L541.5 103.4L544.5 106.9L545.9 109.4L546.8 112.4L547.2 115.9L546.6 121.4L543 133L541.8 140.9L541.7 148.4L542.9 170.4L546.2 197.9L550.3 213.4L552.9 228.9L554 237.9L555.2 254.4L520.1 254.4L520.1 253.4L519.1 250.4L518.5 247.4L518 234.4L517 228.9L515.5 225.6L510.5 218L506.5 209.4L501.5 199.9L500.1 195.9L497.4 184.9L493.3 173.4L492.2 166.4L491.4 148.9L491.5 144.9L492.2 141.9L495.9 132.4L499 122.2L502.2 114.4L502.7 110.9L502.3 106.4L500.9 97.9L498.5 87.9L496.6 77.4L493.6 66.4L492.6 60.4L492.1 53.4L492.2 46.4L492.6 41.4L493.9 33.9zM344 83.9L345 84.6L346 86.4L346.6 88.9L346.8 91.9L346.5 95.2L345.8 98.4L344.5 101L343.5 101.7L342.5 101.1L341.7 98.9L341.1 91.9L341.4 88.4L342 85.9L343 84.2L344 83.9zM415.5 179.3L416.5 179.1L418 179.4L419.5 180.1L421 181.4L423 184.2L424.1 187.9L424.3 194.4L423.4 204.4L422 208.8L421 210L420 210.5L419 210.4L418 209.8L416 206.8L414 201.6L412.8 195.9L412.2 189.9L412.5 184.6L413.5 181.3L414.5 180L415.4 179.4zM417.5 249.7L419 249.7L420.5 250.7L422.2 253.4L422.2 254.4L414 254.4L414 253.4L414.5 252.7L416 250.8L417.2 249.9z"/>
<path fill="#f96747" d="M499 33.9L506.7 33.9L506.7 34.9L505.4 39.4L505.6 41.4L506.2 42.9L507.7 45.4L514.1 53.4L516.5 57.4L520.5 65.1L525 70.7L526.5 73L531.4 83.4L533.5 89.4L534.1 93.9L533.7 105.4L534.3 111.4L535.8 114.9L537 116.3L539.7 118.4L540.5 120.4L540.5 122.9L539.3 132.9L539.1 141.4L539.4 149.4L541 168.9L545 198.4L549.1 214.4L551.3 228.4L552.7 240.9L553.2 254.4L524.6 254.4L524.6 253.4L523.3 249.9L522.4 245.9L521.4 231.4L520.3 225.9L518.5 222.2L514.5 217.1L512.5 214L504.5 198.1L502.9 193.9L500.2 183.9L496.4 172.4L495.7 168.9L495.5 164.4L496.1 147.9L497.7 141.4L502 130.9L504.5 127.4L507 126.1L510 125.9L516 126.8L518 126.5L519.5 126L521 124.9L522.1 123.4L522.8 121.4L523 119.4L522.9 116.4L522 111.9L520.9 107.4L519.7 104.4L518.3 101.9L516.5 100L510.5 96.3L508.3 93.9L507 90.7L505.6 83.9L504.7 80.9L499.5 71.3L497 64.9L495.9 58.9L495.8 52.4L496.5 46.9L498.6 38.9L498.5 33.9zM343.5 89.5L344 89.5L344.2 89.9L344.6 91.9L344.1 93.9L343.5 94.4L342.9 92.4L343.3 89.9z"/>
<path fill="#ee3b2e" d="M503 54.8L504.5 54.5L506.5 55.3L508.5 57.4L509.7 59.9L510.2 62.4L509.8 64.9L508.5 67.3L507 68.2L505.5 68.2L504 67.3L502.5 65.4L501.5 63L501.1 60.9L501.1 58.4L501.7 56.4L502.8 54.9zM518.5 80.9L521.5 80.4L524 81.3L526 83.4L528 87.4L529 91.4L529.2 96.4L528.5 100.8L528 102L527 103.1L526 103L525 102.2L520.6 96.9L515.5 91.9L514 89.4L513.7 86.9L514.3 84.4L516 82.3L518.5 80.9zM529.5 136.3L531.5 136.2L533.4 137.4L534.5 139.4L535.5 143.1L544 199.4L547.5 213.9L548.7 220.4L551.2 240.4L551.5 247.4L551.4 254.4L528.9 254.4L528.9 253.4L526.9 248.9L525.8 244.4L524.1 227.9L522.8 222.4L520.8 218.4L516.5 213.4L514.5 210.4L507.9 196.9L505.2 189.9L499.3 170.4L498.8 166.9L498.7 162.4L499.8 151.9L501.7 145.4L503.5 141.9L505 139.8L507 138.3L509 137.9L511 138.3L515.5 139.9L518.5 140L521.5 139.2L529 136.4z"/>
<path fill="#d21f26" d="M508.5 150.4L511.1 150.9L516.5 154L519 154.8L522.5 155.1L528.5 154.5L530.5 155L532 156L533 157.2L535 160.9L537 167.9L541 188.1L543.4 202.9L546.9 218.9L549.7 241.4L549.8 247.9L549.4 254.4L533.4 254.4L533.4 253.4L530.4 247.4L528.3 239.9L526.4 223.9L525 217.9L523.3 214.4L517.8 207.9L515 202.9L509.5 189.3L503.3 169.9L502.7 166.4L502.5 162.9L503.3 156.4L504.2 153.9L505.5 151.9L507 150.7L508.4 150.4z"/>
<path fill="#d21d25" d="M524.5 162.8L527 162.5L529.5 162.8L531.5 163.9L533.1 165.9L535 170.4L539.5 188.2L544.9 217.4L547.5 238.3L547.7 247.4L547.3 250.4L546.2 253.4L546.2 254.4L539 254.4L539 253.4L536 249.5L533.7 245.4L532 241.1L530.8 236.4L528.7 219.9L527.5 214.5L525.5 210L519.9 201.4L517.6 194.9L516.2 187.9L515.3 180.9L515.1 176.4L515.6 172.4L516.7 168.9L518.3 166.4L521 164.2L524.1 162.9z"/>
<path fill="#b0131f" d="M526 168.9L527.5 168.7L529 169L530.5 170.2L531.5 171.7L534.6 180.9L537.5 187.9L539.2 193.9L542.9 218.4L544.6 235.9L544.5 243.4L543.6 245.9L542.5 246.8L541.5 246.7L540.5 246.1L538.5 244.1L536.4 240.9L534.5 236.9L532.7 229.9L531.3 218.4L530.5 213.9L529.1 209.9L525.4 201.4L524.4 198.4L524 194.4L524.2 185.4L522.6 178.4L522.3 174.9L522.6 172.9L523.4 170.9L524.5 169.7L525.9 168.9z"/>
<path fill="#7a0d18" d="M531.5 188.9L532.5 188.5L533.5 188.7L535.5 190.5L537 193.4L538.3 198.4L539 204.9L539.9 222.9L539.5 227.9L539 229.1L538.5 229.4L537.5 228.7L536.5 226.4L534.2 214.4L530 203.9L528.7 199.4L528.6 196.4L529 193.4L530 190.7L531.4 188.9z"/>
<path fill="#d6f1fc" d="M340 33.9L377.7 33.9L377.7 34.9L376.7 36.4L376.1 37.9L375.8 42.4L376.9 48.9L380 57.9L380.7 60.9L380.9 65.4L380 71L378.8 74.9L377.2 77.4L369.5 82L365.9 85.4L364 88.9L363.3 92.9L363.6 96.4L364.9 99.9L366.8 102.4L373.2 108.9L374.9 111.9L376 114.9L376.5 117.9L376.5 120.9L375.1 131.4L374.8 139.9L374.4 141.9L373.5 143.9L368.1 149.9L365.6 154.9L362.9 164.9L362.4 168.9L362.5 172.5L363.5 177.1L366.4 184.9L368.6 194.9L370 198.2L373.4 204.4L374.8 207.9L375.6 211.9L376.3 220.9L377.3 224.9L379.5 229.4L384 237.1L385.5 239.1L387 239.7L388.5 238.3L389.8 235.4L393 226.3L395 222.8L396 222L397 221.9L398 222.4L399.1 223.9L401 230L402.7 239.9L403.2 246.9L402.9 254.4L339.5 254.4L339.5 130.5L340.5 130.5L342.5 128.7L348.5 124.7L350.5 122.6L351.9 119.9L352.7 116.9L353 113.9L353 93.4L352.8 87.9L351.8 81.9L350.6 77.4L348.9 73.9L347 71.6L344.5 70.4L342.5 70.5L341.5 71.1L340.5 72.4L339.5 72.4L339.5 33.9zM426.5 33.9L441.5 33.9L441.5 34.9L443.5 36.9L444.5 38.9L445.2 41.4L445.6 44.4L445.6 49.9L444.8 64.9L444.2 82.4L444.4 103.9L442.3 121.4L441.9 127.4L442.6 133.4L445.2 141.4L445.6 143.4L444.7 145.4L442.7 146.9L438.5 148.5L434.5 149.3L430.5 148.9L427.5 147.5L415.5 135.6L413.7 132.9L412.4 129.4L411.4 124.9L410.8 119.9L410.7 115.9L411.1 111.9L412.1 108.4L413.3 105.9L414.8 103.9L416.5 102.6L423.1 99.9L425.5 98.4L427.3 95.9L428.5 91.9L429 86.9L428.9 81.4L428.1 75.9L427 72.2L426 71L425 70.7L419.5 72L418 72L416.5 71.5L415.5 70.5L414.7 68.9L414 64.4L414.3 54.9L414.9 51.9L415.8 49.9L417 48.7L418.5 48L423.5 47.9L424.5 47.6L425.8 45.9L426.4 43.9L426.7 40.9L426.1 33.9zM470 33.9L476.3 33.9L476.3 34.9L475 36.5L473 36.9L471.5 36.3L470 35.1L469.8 33.9zM535.5 33.9L537.7 33.9L537.7 34.9L536.5 35.3L535.5 35.1L535 34.9L535 33.9zM551.5 33.9L560.5 33.9L560.5 215.6L559.5 215.5L558.5 214.8L557.2 211.4L554.4 192.4L553.8 185.9L553.6 147.4L555.2 130.4L554.9 117.9L555.2 106.9L554.9 102.9L552.7 92.9L551.9 86.4L550.9 46.9L551 33.9zM383.5 82.4L385 82.3L386.5 82.8L389.5 84.9L391 86.9L396.5 95.8L397.5 98.9L397.7 102.4L397 104.9L395.5 106.6L394.5 106.9L393.5 106.8L391 105L382.7 92.9L381.5 89.4L381.3 86.4L382 83.5L383.4 82.4zM461.5 184.9L462.5 185.3L463.5 187.1L464 189.4L464.2 192.4L464 195.3L463.5 197.2L462.5 198.7L461.5 199L460.5 198.2L459.9 196.9L459.3 191.9L460 186.8L460.5 185.7L461.5 184.9zM470.5 219.9L473 220.1L475.5 221.9L477 224.1L479.2 229.4L480.6 231.9L486 237.2L488.1 239.9L489.5 242.9L490.4 246.4L490.8 250.4L490.7 254.4L461 254.4L461 253.4L461.5 253.3L468 253.3L470.5 252.8L472 251.7L473 249.7L473.3 246.4L472.6 242.9L471.5 240.9L467 235.2L465.9 232.4L465.3 229.4L465.4 225.9L466.5 222.9L468.2 220.9L470.4 219.9z"/>
<path fill="#a9dce8" d="M340 33.9L362.4 33.9L362.4 34.9L367 40.1L369.2 44.4L370.8 50.4L371.9 57.9L372 63.4L371.2 67.9L370 70.9L367.9 73.9L358 83L357 82.9L356 81.8L351.6 71.4L350.5 69.4L349 67.6L347.1 66.4L345 65.8L342.5 65.7L339.5 66.1L339.5 33.9zM553 33.9L560.5 33.9L560.5 209.1L559.5 208.9L558.5 205.4L556.1 192.4L555.3 184.4L555.2 147.4L555.6 140.9L557 129.4L556.4 117.4L556.8 106.4L556.3 101.4L553.7 90.9L553.1 85.4L552.7 33.9zM437.5 42.3L439 42.8L440.5 44.8L441.4 47.9L441.8 51.4L441.3 103.4L439.5 114.8L437 125.1L432.4 136.4L431.2 137.9L429.5 138.3L427 137.7L421 135.2L418.5 133.7L416.8 131.9L415.5 129.6L414.5 126.4L414 122.4L414 117.9L415.1 111.9L416 109.8L417.3 107.9L420 106L426 104.2L428 103.3L429.8 101.4L431.2 98.4L432.2 93.9L432.8 86.9L432.9 60.9L433.5 51.4L434 47.9L434.9 44.9L436 43.1L437.2 42.4zM360 109.2L361.5 108.9L363 109.3L365.3 110.4L367.2 111.9L369.5 115L370.1 116.9L370.3 118.9L370.1 120.9L369.4 123.4L364.9 131.4L363.4 135.9L359.4 165.4L359.1 170.9L359.6 175.4L360.7 179.9L365.7 195.4L367.3 198.9L371.3 205.4L373 209.4L373.8 212.9L374.8 221.4L375.8 225.4L381.3 235.9L383.8 241.9L384.7 245.4L384.9 247.9L384.8 250.4L383.9 253.4L383.9 254.4L339.5 254.4L339.5 136.2L340.5 136.2L342 134.4L344 132.9L352 128.8L354.9 126.4L356.6 122.9L358.3 112.4L359 110.4L359.7 109.4zM471 226.3L471.5 226.1L472.5 226.3L473.7 227.9L474.2 230.4L474 231.6L473.5 232.3L473 232.4L472 232L470.5 230L470.2 227.9L470.9 226.4zM395.5 232.2L396.5 232.1L397.5 233.2L398.5 235.5L399.3 238.9L400.3 246.4L400.1 254.4L391.3 254.4L390.9 248.9L391.4 243.9L393.4 235.9L394.5 233.4L395.3 232.4zM479.5 238.9L481.5 239.1L483.5 240.1L485 241.5L486.5 243.7L487.5 246.3L488 248.9L487.7 254.4L475.5 254.4L475.5 253.4L476.5 249.9L477.6 240.9L478.4 239.4L479.3 238.9z"/>
<path fill="#73bfd9" d="M342.5 33.9L354.5 33.9L354.5 34.9L353.5 36.2L352 37.3L350.5 37.7L348.5 37.8L346 37.3L344 36.5L342.1 34.9L342.1 33.9zM554.5 33.9L560.5 33.9L560.5 203.1L559.5 202.7L558.2 196.9L556.9 189.9L556.3 183.9L556.5 165.4L556.3 145.9L556.8 139.9L558.4 129.9L558.6 126.4L558 116.9L558.3 107.4L558.1 103.4L557.5 99.9L555 90.8L554.2 83.9L554.1 33.9zM359.5 48.2L360.5 48L361.5 48.1L363.5 49.6L365.1 52.9L366 57.4L365.9 61.4L365 64.8L363.2 67.4L361 68.4L359.1 67.9L357.7 66.4L356.5 63.7L355.9 60.4L356 56.9L356.7 52.9L357.9 49.9L359.2 48.4zM427 110.4L431 110.3L432 110.4L433 111.1L433.7 112.4L433.9 113.9L433.7 116.4L433.2 118.4L431.1 122.4L427.5 126L424 128.3L422.5 128.6L421 128.5L420 127.9L419 126.9L417.9 123.9L417.7 119.9L418.5 115.9L419.8 113.4L421.5 111.8L423.6 110.9L427 110.4zM348 135.9L351 135.8L353.5 136.7L355.1 138.4L356.4 141.4L357.1 144.4L357.3 148.4L356.4 167.9L356.7 173.4L357.4 177.9L358.7 182.4L363.8 196.4L365.5 199.8L369.7 206.4L371.3 209.9L372.2 213.4L373.4 222.4L374.5 225.9L379.6 235.4L381.7 240.4L382.6 243.9L383 247.4L382.9 250.4L382.2 254.4L339.5 254.4L339.5 141.3L340.5 141.3L342 139.3L344 137.5L346 136.5L347.9 135.9zM482 247.3L483 247.3L483.5 247.7L484.2 249.4L484.1 251.4L483.5 252.8L482.9 253.4L482.9 254.4L481.4 254.4L481.4 253.4L480.8 251.9L481 248.9L481.9 247.4z"/>
<path fill="#5ea0d2" d="M555.5 33.9L560.5 33.9L560.5 103.2L560 103.2L559.5 102.3L558.7 98.4L556.3 90.4L555.5 84.6L555.5 33.9zM560 112.8L560.5 112.8L560.5 116.8L560 116.8L559.8 115.9L560 112.9zM560 130.5L560.5 130.5L560.5 198.8L559.5 198.4L558.4 193.4L557.5 187.4L557.1 181.9L557.4 165.9L557.2 145.4L557.9 138.9L559.6 130.9zM345.5 141.9L348 141.6L349.9 142.4L351.3 143.9L352.4 146.4L353.3 151.9L354.1 171.9L355.3 179.4L356.6 183.4L362.5 197.8L368 206.9L369.5 209.9L370.6 213.4L371.9 221.9L372.8 225.4L374.2 228.4L378.5 235.8L380.2 239.9L381.3 243.9L381.7 247.4L381.6 250.4L380.9 254.4L339.5 254.4L339.5 147.8L340.5 147.8L342.8 143.9L344 142.7L345.5 141.9z"/>
<path fill="#3f8fcb" d="M557 33.9L560.5 33.9L560.5 95.6L559.5 95.3L558 90.9L557.1 86.9L556.7 82.9L556.8 33.9zM559.5 134.8L560.5 134.4L560.5 195.5L559.5 195.1L558.9 192.4L558.2 187.4L557.8 181.9L558.1 165.4L557.9 146.4L558.3 140.9L559.5 134.9zM344.5 151.8L345.5 151.4L346.6 151.9L347.5 153.2L348.5 156L350.4 164.4L352.2 176.9L353.9 182.4L361.5 199.4L368 210.4L369.2 213.9L370.6 222.4L371.5 225.9L373 228.9L377.3 235.9L379.3 240.4L380.2 243.9L380.6 247.4L380.5 250.4L379.7 254.4L339.5 254.4L339.5 157.8L340.5 157.8L342.5 154L344.3 151.9z"/>
<path fill="#2d78bd" d="M558.5 33.9L560.5 33.9L560.5 89.5L559.5 89.2L559 87.6L558 79.8L558.1 33.9zM560 137.4L560.5 137.4L560.5 192.5L560 192.5L559.5 192L559.3 190.9L558.6 185.9L558.4 180.9L558.7 164.9L558.5 146.4L559.1 139.9L559.5 137.8L560 137.4zM343 164.2L344 164L345 164.4L346 165.4L346.9 166.9L348.1 170.4L349.9 178.4L351.3 182.4L356.3 191.4L360.9 201.4L365.5 208.8L367 211.9L367.9 214.9L369.3 222.9L370.2 226.4L371.7 229.4L376.5 236.9L378.8 242.4L379.4 245.4L379.6 248.4L378.6 254.4L339.5 254.4L339.5 167L340.5 167L341.5 165.4L342.6 164.4z"/>
<path fill="#2b76be" d="M560 33.9L560.5 33.9L560.5 48.6L560 48.6L560 33.9zM560 62.2L560.5 62.2L560.5 75.9L560 75.9L559.6 72.4L560 62.4zM560 140.3L560.5 140.3L560.5 189.4L560 189.4L559.5 188.7L558.9 180.9L559.2 164.4L558.9 147.4L559.4 141.9L559.5 141L559.9 140.4zM342.5 174.1L343.9 174.4L345 175.8L348.2 182.4L354.7 191.9L359.7 202.4L365.4 211.9L366.5 215.4L368 223.9L369.1 227.4L370.6 230.4L375.5 237.3L377.7 242.4L378.4 245.4L378.6 248.4L377.5 254.4L341.8 254.4L340.5 246.3L339.5 246.3L339.5 176.5L340.5 176.5L342.1 174.4z"/>
<path fill="#1460aa" d="M560 144.2L560.5 144.2L560.5 157.8L560 157.8L559.5 154.6L559.4 146.9L559.9 144.4zM560 171.5L560.5 171.5L560.5 185.1L560 185.1L559.5 182.9L559.5 175L559.9 171.9zM343.5 184.8L345 184.9L347 186L350 188.7L352.3 191.4L354.7 195.4L359 204.4L363.8 212.4L365 215.9L366.7 224.9L367.7 228.4L369.4 231.4L374.5 237.9L376.8 242.9L377.4 245.9L377.6 248.4L376.4 254.4L343.8 254.4L342 244.5L340.5 230.3L339.5 230.3L339.5 205.6L340.5 205.6L341.6 188.4L342.3 185.9L343.3 184.9z"/>
<path fill="#0a3478" d="M345 189.7L346.5 189.7L348.5 190.6L350.5 192.3L352 194.2L354 197.6L357.8 205.9L362.2 213.4L363.5 216.9L365.2 226.4L366.3 229.9L368.2 232.9L373.5 238.7L374.8 240.9L375.8 243.4L376.4 246.4L376.5 248.9L376 251.4L375.2 253.4L375.2 254.4L346.4 254.4L346.4 253.4L344.8 246.9L344 241.9L343.1 225.4L341.8 211.9L341.9 201.9L342.4 195.4L343.2 191.9L344 190.5L344.7 189.9z"/>
<path fill="#08204e" d="M345.5 193.9L347 193.4L348.5 194L350.5 195.7L352 197.8L356 207.4L359.9 213.9L361 216.4L362 219.9L363.5 228.9L364.7 232.4L366.6 234.9L372 239.3L374.1 242.4L375.1 245.4L375.4 248.4L375 250.8L373.7 253.4L373.7 254.4L351.5 254.4L351.1 251.4L348.5 244.2L347.6 239.9L347 233.9L346.3 218.9L344 208.9L343.6 205.9L343.4 201.4L343.7 197.9L344.5 195.2L345.5 193.9z"/>
</g>
<rect x="340.5" y="34.9" width="219.1" height="218.5" fill="none" stroke="#000" stroke-width="1.2"/>
<text class="tl" x="340.5" y="271" text-anchor="middle">145E</text>
<text class="tl" x="384.32" y="271" text-anchor="middle">165E</text>
<text class="tl" x="428.14" y="271" text-anchor="middle">175W</text>
<text class="tl" x="471.96" y="271" text-anchor="middle">155W</text>
<text class="tl" x="515.78" y="271" text-anchor="middle">135W</text>
<text class="tl" x="559.6" y="271" text-anchor="middle">115W</text>
<text class="yl" x="330" y="38.3" text-anchor="end">-8</text>
<text class="yl" x="330" y="65.61" text-anchor="end">-7</text>
<text class="yl" x="330" y="92.93" text-anchor="end">-6</text>
<text class="yl" x="330" y="120.24" text-anchor="end">-5</text>
<text class="yl" x="330" y="147.55" text-anchor="end">-4</text>
<text class="yl" x="330" y="174.86" text-anchor="end">-3</text>
<text class="yl" x="330" y="202.18" text-anchor="end">-2</text>
<text class="yl" x="330" y="229.49" text-anchor="end">-1</text>
<text class="yl" x="330" y="256.8" text-anchor="end">0</text>
<path d="M340.5 34.9v-6.2M340.5 253.4v6.5M384.32 34.9v-6.2M384.32 253.4v6.5M428.14 34.9v-6.2M428.14 253.4v6.5M471.96 34.9v-6.2M471.96 253.4v6.5M515.78 34.9v-6.2M515.78 253.4v6.5M559.6 34.9v-6.2M559.6 253.4v6.5M340.5 34.9h-6.4M559.6 34.9h6.4M340.5 62.21h-6.4M559.6 62.21h6.4M340.5 89.53h-6.4M559.6 89.53h6.4M340.5 116.84h-6.4M559.6 116.84h6.4M340.5 144.15h-6.4M559.6 144.15h6.4M340.5 171.46h-6.4M559.6 171.46h6.4M340.5 198.78h-6.4M559.6 198.78h6.4M340.5 226.09h-6.4M559.6 226.09h6.4M340.5 253.4h-6.4M559.6 253.4h6.4" stroke="#000" stroke-width="1.2" fill="none"/>
<text x="22.4" y="144.2" font-size="12.8" transform="rotate(-90 22.4 144.2)" text-anchor="middle" dy="4.6" class="md">Days</text>
<text x="138.5" y="294" font-size="12.9" class="md">Longitude</text>
<rect x="100" y="295.2" width="322" height="47" fill="#fff"/>
<text x="424.8" y="294" font-size="12.9" class="md">Longitude</text>
<text x="304.7" y="298.7" font-size="14.3" text-anchor="middle" class="md">Pa/s</text>
<path d="M162.2 304.4L148.1 312L162.2 319.6z" fill="#08204e"/>
<path d="M447.8 304.4L461.7 312L447.8 319.6z" fill="#6a000c"/>
<rect x="162.2" y="304.4" width="14.28" height="15.2" fill="#0a3478"/>
<rect x="176.48" y="304.4" width="14.28" height="15.2" fill="#1460aa"/>
<rect x="190.76" y="304.4" width="14.28" height="15.2" fill="#2b76be"/>
<rect x="205.04" y="304.4" width="14.28" height="15.2" fill="#2d78bd"/>
<rect x="219.32" y="304.4" width="14.28" height="15.2" fill="#3f8fcb"/>
<rect x="233.6" y="304.4" width="14.28" height="15.2" fill="#5ea0d2"/>
<rect x="247.88" y="304.4" width="14.28" height="15.2" fill="#73bfd9"/>
<rect x="262.16" y="304.4" width="14.28" height="15.2" fill="#a9dce8"/>
<rect x="276.44" y="304.4" width="14.28" height="15.2" fill="#d6f1fc"/>
<rect x="290.72" y="304.4" width="14.28" height="15.2" fill="#ffffff"/>
<rect x="305" y="304.4" width="14.28" height="15.2" fill="#ffffff"/>
<rect x="319.28" y="304.4" width="14.28" height="15.2" fill="#ffdadf"/>
<rect x="333.56" y="304.4" width="14.28" height="15.2" fill="#fdb5a3"/>
<rect x="347.84" y="304.4" width="14.28" height="15.2" fill="#fc8f6e"/>
<rect x="362.12" y="304.4" width="14.28" height="15.2" fill="#f96747"/>
<rect x="376.4" y="304.4" width="14.28" height="15.2" fill="#ee3b2e"/>
<rect x="390.68" y="304.4" width="14.28" height="15.2" fill="#d21f26"/>
<rect x="404.96" y="304.4" width="14.28" height="15.2" fill="#d21d25"/>
<rect x="419.24" y="304.4" width="14.28" height="15.2" fill="#b0131f"/>
<rect x="433.52" y="304.4" width="14.28" height="15.2" fill="#7a0d18"/>
<path d="M162.2 304.4V319.6M176.48 304.4V319.6M190.76 304.4V319.6M205.04 304.4V319.6M219.32 304.4V319.6M233.6 304.4V319.6M247.88 304.4V319.6M262.16 304.4V319.6M276.44 304.4V319.6M290.72 304.4V319.6M305 304.4V319.6M319.28 304.4V319.6M333.56 304.4V319.6M347.84 304.4V319.6M362.12 304.4V319.6M376.4 304.4V319.6M390.68 304.4V319.6M404.96 304.4V319.6M419.24 304.4V319.6M433.52 304.4V319.6M447.8 304.4V319.6M148.1 312L162.2 304.4H447.8L461.7 312L447.8 319.6H162.2z" fill="none" stroke="#000" stroke-width="0.9"/>
<text x="162.2" y="331.8" font-size="11" text-anchor="middle" class="md">-0.05</text>
<text x="190.76" y="331.8" font-size="11" text-anchor="middle" class="md">-0.04</text>
<text x="219.32" y="331.8" font-size="11" text-anchor="middle" class="md">-0.03</text>
<text x="247.88" y="331.8" font-size="11" text-anchor="middle" class="md">-0.02</text>
<text x="276.44" y="331.8" font-size="11" text-anchor="middle" class="md">-0.01</text>
<text x="305" y="331.8" font-size="11" text-anchor="middle" class="md">0</text>
<text x="333.56" y="331.8" font-size="11" text-anchor="middle" class="md">0.01</text>
<text x="362.12" y="331.8" font-size="11" text-anchor="middle" class="md">0.02</text>
<text x="390.68" y="331.8" font-size="11" text-anchor="middle" class="md">0.03</text>
<text x="419.24" y="331.8" font-size="11" text-anchor="middle" class="md">0.04</text>
<text x="447.8" y="331.8" font-size="11" text-anchor="middle" class="md">0.05</text>
</svg>
</body></html>
